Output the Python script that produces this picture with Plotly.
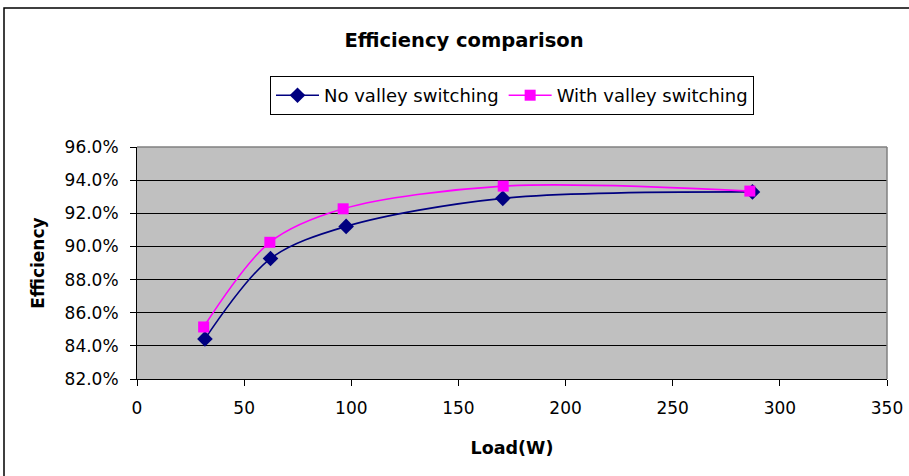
import plotly.graph_objects as go

# Data
load_no_vs = [31.7, 62.3, 97.6, 170.7, 287.2]
eff_no_vs = [0.8442, 0.8927, 0.9121, 0.9290, 0.9329]
load_vs = [31.1, 62.0, 96.2, 170.9, 286.0]
eff_vs = [0.8514, 0.9025, 0.9227, 0.9364, 0.9334]
series_names = ["No valley switching", "With valley switching"]
x_ticks = [0, 50, 100, 150, 200, 250, 300, 350]
y_ticks = [0.82, 0.84, 0.86, 0.88, 0.90, 0.92, 0.94, 0.96]

FONT = "DejaVu Sans"
W, H = 909, 476
L, R, T, B = 137, 22, 147, 97
pw, ph = W - L - R, H - T - B

def px(xp):
    return (xp - L) / pw

def py(yp):
    return (H - B - yp) / ph

fig = go.Figure()
fig.add_trace(go.Scatter(
    x=load_no_vs, y=eff_no_vs, name=series_names[0], mode="lines+markers",
    line=dict(color="#000080", width=1.6, shape="spline", smoothing=0.9),
    marker=dict(symbol="diamond", size=12, color="#000080"),
))
fig.add_trace(go.Scatter(
    x=load_vs, y=eff_vs, name=series_names[1], mode="lines+markers",
    line=dict(color="#FF00FF", width=1.6, shape="spline", smoothing=0.9),
    marker=dict(symbol="square", size=11, color="#FF00FF"),
))

fig.update_layout(
    width=W, height=H,
    margin=dict(l=L, r=R, t=T, b=B, autoexpand=False),
    paper_bgcolor="white",
    plot_bgcolor="#C0C0C0",
    font=dict(family=FONT, size=17, color="black"),
    title=dict(text="<b>Efficiency comparison</b>", x=464 / W, xanchor="center",
               y=1 - 40 / H, yanchor="middle", yref="container",
               font=dict(family=FONT, size=19.5, color="black")),
    showlegend=True,
    legend=dict(orientation="h", x=px(270), xanchor="left", y=py(76), yanchor="top",
                bgcolor="white", bordercolor="black", borderwidth=1,
                font=dict(family=FONT, size=18, color="black"),
                itemwidth=43, tracegroupgap=0),
    xaxis=dict(range=[0, 350], tickvals=x_ticks, ticks="outside", ticklen=6,
               tickcolor="black", showline=True, linecolor="black", linewidth=1,
               showgrid=False, zeroline=False, mirror=False, automargin=False,
               ticklabelstandoff=8,
               title=dict(text="<b>Load(W)</b>", standoff=24,
                          font=dict(family=FONT, size=17.5)),
               tickfont=dict(family=FONT, size=17)),
    yaxis=dict(range=[0.82, 0.96], tickvals=y_ticks, tickformat=".1%",
               ticks="outside", ticklen=6, tickcolor="black",
               showline=True, linecolor="black", linewidth=1, automargin=False,
               showgrid=True, gridcolor="black", gridwidth=1, zeroline=False,
               title=dict(text="<b>Efficiency</b>", standoff=15,
                          font=dict(family=FONT, size=17)),
               tickfont=dict(family=FONT, size=17), ticklabelstandoff=8),
    shapes=[
        dict(type="line", xref="paper", yref="paper", x0=0, x1=1, y0=1, y1=1,
             line=dict(color="#808080", width=1.5)),
        dict(type="line", xref="paper", yref="paper", x0=1, x1=1, y0=0, y1=1,
             line=dict(color="#808080", width=1.5)),
        dict(type="rect", xref="paper", yref="paper",
             x0=px(4), x1=px(W + 10), y0=py(H + 10), y1=py(8),
             line=dict(color="black", width=1.5), fillcolor="rgba(0,0,0,0)",
             layer="below"),
    ],
)

fig.write_html("out.html")
